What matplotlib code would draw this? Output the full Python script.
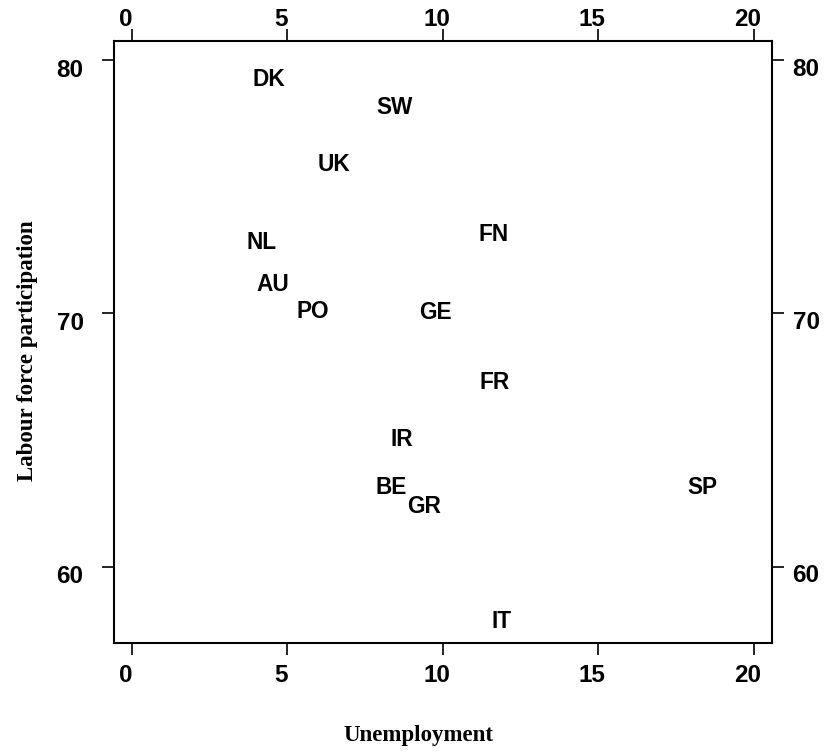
import matplotlib
matplotlib.use("Agg")
import matplotlib.pyplot as plt

# countries and their values (unemployment %, labour force participation %)
countries = ['DK', 'SW', 'UK', 'NL', 'FN', 'AU', 'PO', 'GE', 'FR', 'IR', 'BE', 'GR', 'SP', 'IT']
unemployment = [4.41, 8.46, 6.50, 4.18, 11.62, 4.54, 5.82, 9.75, 11.68, 8.69, 8.33, 9.40, 18.34, 11.90]
participation = [79.25, 78.11, 75.86, 72.82, 73.10, 71.16, 70.06, 70.02, 67.26, 65.01, 63.12, 62.37, 63.12, 57.83]

x_ticks = [0, 5, 10, 15, 20]
y_ticks = [60, 70, 80]

W, H = 825, 754
px = 0.72  # one pixel in points at dpi 100

fig = plt.figure(figsize=(W / 100, H / 100), dpi=100)
fig.patch.set_facecolor('white')
ax = fig.add_axes([114 / W, 1 - 643 / H, (772 - 114) / W, (643 - 41) / H])

ax.set_xlim(-0.58, 20.59)
ax.set_ylim(57.0, 80.75)

for s in ax.spines.values():
    s.set_linewidth(1.5)

ax.set_xticks(x_ticks)
ax.set_yticks(y_ticks)
ax.tick_params(axis='both', direction='out', length=8.5, width=1.2,
               top=True, right=True, labelbottom=False, labeltop=False,
               labelleft=False, labelright=False)

tick_font = dict(family='Liberation Sans', fontsize=17.5, fontweight='bold')

# tick labels, placed like the printed original
for v in x_ticks:
    ax.annotate(str(v), xy=(v, 0), xycoords=('data', 'axes fraction'),
                xytext=(-6 * px, -32 * px), textcoords='offset points',
                ha='center', va='center', **tick_font)
    ax.annotate(str(v), xy=(v, 1), xycoords=('data', 'axes fraction'),
                xytext=(-6 * px, 21 * px), textcoords='offset points',
                ha='center', va='center', **tick_font)
for v in y_ticks:
    ax.annotate(str(v), xy=(0, v), xycoords=('axes fraction', 'data'),
                xytext=(-44 * px, -10 * px), textcoords='offset points',
                ha='center', va='center', **tick_font)
    ax.annotate(str(v), xy=(1, v), xycoords=('axes fraction', 'data'),
                xytext=(34 * px, -9 * px), textcoords='offset points',
                ha='center', va='center', **tick_font)

# country labels
for name, u, p in zip(countries, unemployment, participation):
    ax.text(u, p, name, ha='center', va='center', family='Liberation Sans',
            fontsize=16.3, fontweight='bold')

fig.text(418 / W, 1 - 735 / H, 'Unemployment', ha='center', va='center',
         family='Liberation Serif', fontweight='bold', fontsize=16.5)
fig.text(27 / W, 1 - 351 / H, 'Labour force participation', ha='center', va='center',
         rotation=90, family='Liberation Serif', fontweight='bold', fontsize=16.5)

plt.savefig('out.png', dpi=100, facecolor=fig.get_facecolor())
